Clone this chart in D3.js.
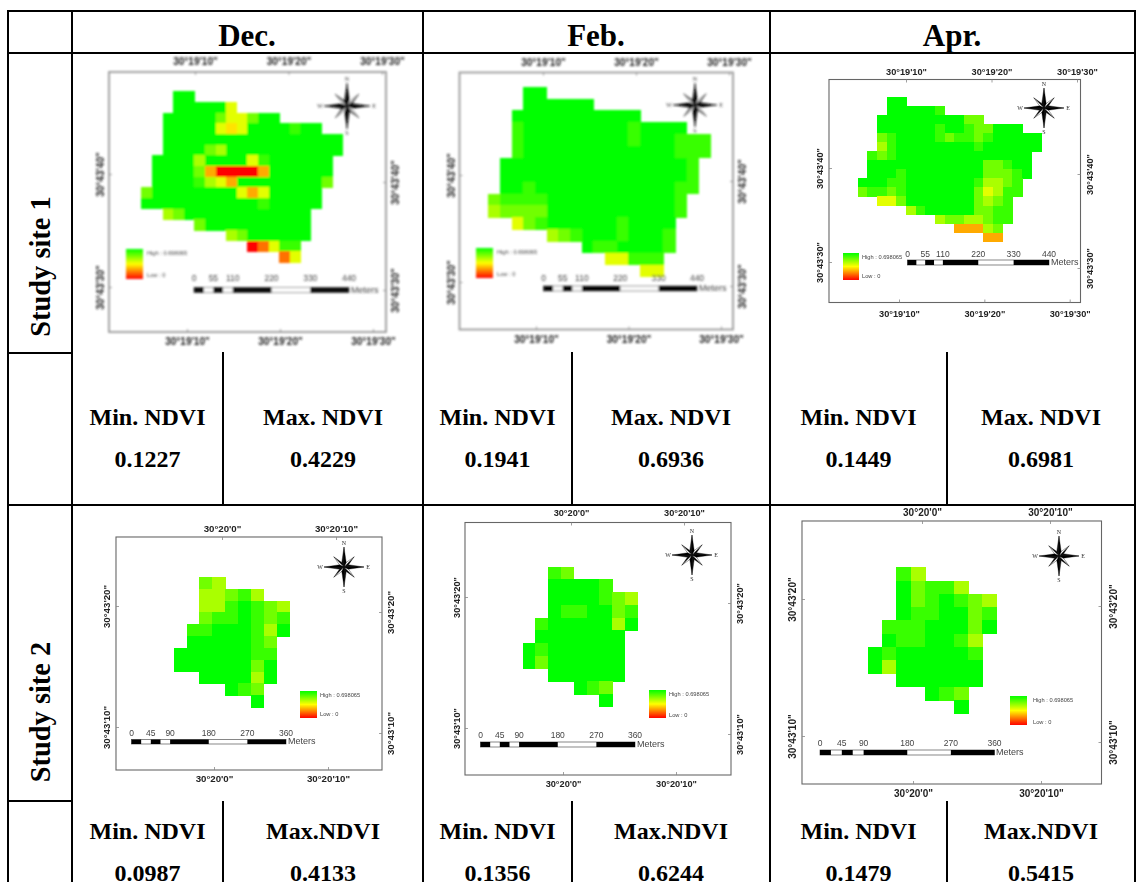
<!DOCTYPE html>
<html>
<head>
<meta charset="utf-8">
<script src="https://cdn.jsdelivr.net/npm/d3@7"></script>
<style>
    html, body { margin: 0; padding: 0; background: #fff; overflow: hidden; }
    svg { display: block; }
    .cap { font-family: "Liberation Serif", serif; font-weight: bold; fill: #000; text-anchor: middle; }
    .geo text { font-family: "Liberation Sans", sans-serif; font-weight: bold; fill: #222; }
    .bar-label { font-family: "Liberation Sans", sans-serif; fill: #444; }
</style>
</head>
<body>
<div id="chart"></div>
<script>
const WIDTH = 1142, HEIGHT = 882;
const NDVI_HIGH = 0.698065;

const months = ['Dec.', 'Feb.', 'Apr.'];
const sites = ['Study site 1', 'Study site 2'];

// min / max NDVI per month
const minSite1 = ['0.1227', '0.1941', '0.1449'];
const maxSite1 = ['0.4229', '0.6936', '0.6981'];
const minSite2 = ['0.0987', '0.1356', '0.1479'];
const maxSite2 = ['0.4133', '0.6244', '0.5415'];
const maxCaptionSite1 = 'Max. NDVI';
const maxCaptionSite2 = 'Max.NDVI';

// raster cells, digit = class 0 (low) .. 9 (high), '.' = no data
const dec1Rows = [
    '...99',
    '...999995',
    '..99999755799',
    '..999995459999899',
    '..99999999999999999',
    '..99997699999999999',
    '.99996999958999999',
    '.99997300003999999',
    '.99998653999999997',
    '79999999953599999',
    '99999999999899999',
    '..67999999999999',
    '.....79999999999',
    '........67999999',
    '..........02588',
    '.............25'
];
const feb1Rows = [
    '...99',
    '...999999',
    '..99999999999',
    '..899999999989999',
    '..89999999998999888',
    '..89999999999999888',
    '.99999999999999998',
    '.99999999999999998',
    '.99899999999999988',
    '78888999999999998',
    '67777999999999998',
    '..57899999989999',
    '.....67899989998',
    '........98899998',
    '..........55888',
    '.............55'
];
const apr1Rows = [
    '...99',
    '...999998',
    '..99999999977',
    '..999999899877999',
    '..78999987887899999',
    '..68999999998999999',
    '.87899999999999999',
    '.99999999999977899',
    '.99989999999977789',
    '99988999999986678',
    '78878999999975688',
    '..55799999997678',
    '.....68999997788',
    '........67766788',
    '..........33367',
    '.............33'
];
const dec2Rows = [
    '..76',
    '..66786',
    '..6689876',
    '..7889878',
    '.88999869',
    '.9999987',
    '99999988',
    '99999979',
    '..999969',
    '....987',
    '......9'
];
const feb2Rows = [
    '..87',
    '..99998',
    '..9999876',
    '..9889978',
    '.89999969',
    '.9999999',
    '98999999',
    '97999999',
    '..999999',
    '....987',
    '......9'
];
const apr2Rows = [
    '..86',
    '..97886',
    '..9789876',
    '..9889978',
    '.88899979',
    '.9889986',
    '98999998',
    '96999999',
    '..999999',
    '....987',
    '......9'
];

const barTicksSite1 = [0, 55, 110, 220, 330, 440];
const barTicksSite2 = [0, 45, 90, 180, 270, 360];
// black / white runs of the scale bar, as fractions of the bar length
const barRuns = [[0, 1 / 16], [1 / 8, 3 / 16], [1 / 4, 1 / 2], [3 / 4, 1]];

const lonSite1 = [10, 20, 30], latSite1 = [40, 30];
const lonSite2 = [0, 10], latSite2 = [20, 10];

// table rules
const colX = [8, 72, 423, 770, 1135];
const midX = [223, 572, 947];
const rowY = [11, 53, 505];

// page placement of each map panel
const panels = [
    { rows: dec1Rows, site: 0, blur: 0.95, labelSize: 10, frame: [109, 72, 386, 332], grid: [141.3, 91.3, 10.6, 10.67],
      top: [195, 382, 61], bottom: [187, 373, 341], left: [174, 287, 100], right: [182, 290, 395],
      rose: [347, 106, 23], legend: [126, 249, 17, 30, 147, 253, 275], bar: [194, 349, 287.5, 5, 281, 351] },
    { rows: feb1Rows, site: 0, blur: 0.95, labelSize: 10, frame: [459.5, 72.5, 733, 329.5], grid: [488.3, 86.7, 11.67, 11.87],
      top: [543, 729, 62.5], bottom: [536, 721, 339], left: [175, 282, 451], right: [181, 286, 742],
      rose: [695, 105, 22], legend: [476, 248, 17, 30, 497, 252, 274], bar: [543.5, 697, 286, 5, 281, 699] },
    { rows: apr1Rows, site: 0, blur: 0.5, labelSize: 9.2, frame: [829, 79.5, 1080.5, 302.5], grid: [857.7, 96.7, 9.67, 9.07],
      top: [906, 1077, 72], bottom: [899, 1069.7, 314], left: [168, 262, 820], right: [174, 268, 1090],
      rose: [1044, 108, 20], legend: [843, 253, 16, 27, 862, 257, 276], bar: [907.5, 1049, 260, 5, 257, 1051] },
    { rows: dec2Rows, site: 1, blur: 0.5, labelSize: 9.7, frame: [116, 537, 382, 770], grid: [173.7, 577, 12.87, 11.82],
      top: [222, 336, 528], bottom: [214, 328, 779], left: [606, 727, 107], right: [612, 733, 391],
      rose: [344, 567, 20], legend: [300, 691, 17, 27, 320, 695, 714], bar: [131.5, 286, 739.5, 4.5, 736, 288] },
    { rows: feb2Rows, site: 1, blur: 0.5, labelSize: 9.2, frame: [465, 522.5, 731, 775], grid: [522.7, 566.7, 12.78, 12.73],
      top: [571, 684, 513], bottom: [563, 676, 784], left: [597, 728, 457], right: [603, 734, 740],
      rose: [692, 555, 20], legend: [649, 690, 17, 28, 669, 694, 715], bar: [480.5, 635, 742, 5, 738, 637] },
    { rows: apr2Rows, site: 1, blur: 0.5, labelSize: 10, frame: [802, 521, 1101.5, 784], grid: [867.7, 567.3, 14.33, 13.27],
      top: [922, 1050, 512], bottom: [913, 1041, 793], left: [599, 736, 792], right: [606, 742, 1113],
      rose: [1059, 556, 20], legend: [1010, 696, 17, 29, 1033, 700, 722], bar: [820, 994.5, 750, 5, 746, 996] }
];

const classToNdvi = d3.scaleLinear().domain([0, 9]).range([0, NDVI_HIGH]);
const ndviColor = d3.scaleLinear()
    .domain([0, NDVI_HIGH / 2, NDVI_HIGH])
    .range(['#ff0000', '#ffff00', '#00ff00']);

const svg = d3.select('#chart').append('svg')
    .attr('width', WIDTH)
    .attr('height', HEIGHT);
const defs = svg.append('defs');

const legendGrad = defs.append('linearGradient')
    .attr('id', 'ndvi-ramp')
    .attr('x1', 0).attr('y1', 0).attr('x2', 0).attr('y2', 1);
d3.range(0, 1.01, 0.1).forEach(function (t) {
    legendGrad.append('stop')
        .attr('offset', t)
        .attr('stop-color', ndviColor(NDVI_HIGH * (1 - t)));
});

function drawPanel(panel, i) {
    let filterId = 'soft-' + i;
    defs.append('filter').attr('id', filterId)
        .attr('x', '-5%').attr('y', '-5%').attr('width', '110%').attr('height', '110%')
        .append('feGaussianBlur').attr('stdDeviation', panel.blur);

    let g = svg.append('g').attr('filter', 'url(#' + filterId + ')');
    let [fx0, fy0, fx1, fy1] = panel.frame;

    g.append('rect')
        .attr('x', fx0).attr('y', fy0)
        .attr('width', fx1 - fx0).attr('height', fy1 - fy0)
        .attr('fill', 'none')
        .attr('stroke', i < 2 ? '#999' : '#666')
        .attr('stroke-width', i < 2 ? 1.8 : 1.1);

    drawCells(g, panel);
    drawAxes(g, panel);
    drawRose(g, panel.rose);
    drawLegend(g, panel.legend);
    drawBar(g, panel);
}

function drawCells(g, panel) {
    let [x0, y0, cw, ch] = panel.grid;
    let nCols = d3.max(panel.rows, d => d.length);
    let x = d3.scaleLinear().domain([0, nCols]).range([x0, x0 + nCols * cw]);
    let y = d3.scaleLinear().domain([0, panel.rows.length]).range([y0, y0 + panel.rows.length * ch]);

    let cells = [];
    panel.rows.forEach(function (row, r) {
        row.split('').forEach(function (c, col) {
            if (c !== '.') cells.push({ r: r, col: col, ndvi: classToNdvi(+c) });
        });
    });

    g.append('g').attr('shape-rendering', 'crispEdges')
        .selectAll('rect').data(cells).join('rect')
        .attr('x', d => x(d.col))
        .attr('y', d => y(d.r))
        .attr('width', cw + 0.5)
        .attr('height', ch + 0.5)
        .attr('fill', d => ndviColor(d.ndvi));
}

function drawAxes(g, panel) {
    let site1 = panel.site === 0;
    let lons = site1 ? lonSite1 : lonSite2;
    let lats = site1 ? latSite1 : latSite2;
    let lonFmt = site1 ? (s => '30°19\'' + s + '"') : (s => '30°20\'' + s + '"');
    let latFmt = d => '30°43\'' + d + '"';
    let [fx0, fy0, fx1, fy1] = panel.frame;
    let size = panel.labelSize;

    function lonAxis(axisFn, spec, yPos) {
        let scale = d3.scaleLinear().domain([lons[0], lons[lons.length - 1]]).range([spec[0], spec[1]]);
        let axis = axisFn(scale).tickValues(lons).tickFormat(lonFmt).tickSizeInner(-3).tickSizeOuter(0)
            .tickPadding(Math.abs(spec[2] - yPos) - size * 0.36);
        let a = g.append('g').attr('class', 'geo').attr('transform', 'translate(0,' + yPos + ')').call(axis);
        styleAxis(a, size);
    }

    function latAxis(axisFn, spec, xPos, side) {
        let scale = d3.scaleLinear().domain([lats[0], lats[1]]).range([spec[0], spec[1]]);
        let axis = axisFn(scale).tickValues(lats).tickFormat(latFmt).tickSizeInner(-3).tickSizeOuter(0);
        let a = g.append('g').attr('class', 'geo').attr('transform', 'translate(' + xPos + ',0)').call(axis);
        styleAxis(a, size);
        a.selectAll('text')
            .attr('transform', 'rotate(-90)')
            .attr('x', 0)
            .attr('y', side * Math.abs(spec[2] - xPos))
            .attr('dy', '.35em')
            .attr('text-anchor', 'middle');
    }

    lonAxis(d3.axisTop, panel.top, fy0);
    lonAxis(d3.axisBottom, panel.bottom, fy1);
    latAxis(d3.axisLeft, panel.left, fx0, -1);
    latAxis(d3.axisRight, panel.right, fx1, 1);
}

function styleAxis(a, size) {
    a.attr('font-family', null).attr('font-size', null);
    a.select('.domain').remove();
    a.selectAll('line').attr('stroke', '#888').attr('stroke-width', 0.8);
    a.selectAll('text').style('font-size', size + 'px');
}

function drawRose(g, rose) {
    let [cx, cy, R] = rose;
    let r = g.append('g').attr('transform', 'translate(' + cx + ',' + cy + ')');
    let point = (rad, deg) => [rad * Math.sin(deg * Math.PI / 180), -rad * Math.cos(deg * Math.PI / 180)];
    let line = d3.line();

    // diagonal arms go first, the long ones sit on top
    [45, 135, 225, 315, 0, 90, 180, 270].forEach(function (deg) {
        let main = deg % 90 === 0;
        let len = main ? R : R * 0.72;
        let half = main ? R * 0.24 : R * 0.2;
        r.append('path')
            .attr('d', line([[0, 0], point(len, deg), point(half, deg + 28)]) + 'Z')
            .attr('fill', '#000').attr('stroke', '#111').attr('stroke-width', 0.3);
        r.append('path')
            .attr('d', line([[0, 0], point(len, deg), point(half, deg - 28)]) + 'Z')
            .attr('fill', main ? '#111' : '#fff').attr('stroke', '#111').attr('stroke-width', 0.4);
    });

    [['N', 0], ['E', 90], ['S', 180], ['W', 270]].forEach(function (d) {
        let p = point(R + 4, d[1]);
        r.append('text')
            .attr('x', p[0]).attr('y', p[1]).attr('dy', '.35em')
            .attr('text-anchor', 'middle')
            .attr('font-family', 'Liberation Serif, serif')
            .attr('font-size', 6)
            .attr('fill', '#333')
            .text(d[0]);
    });
}

function drawLegend(g, legend) {
    let [x, y, w, h, tx, highY, lowY] = legend;
    g.append('rect')
        .attr('x', x).attr('y', y).attr('width', w).attr('height', h)
        .attr('fill', 'url(#ndvi-ramp)');
    [['High : ' + NDVI_HIGH, highY], ['Low : 0', lowY]].forEach(function (d) {
        g.append('text')
            .attr('class', 'bar-label')
            .attr('x', tx).attr('y', d[1]).attr('dy', '.35em')
            .attr('font-size', 5.7)
            .text(d[0]);
    });
}

function drawBar(g, panel) {
    let [x0, x1, y, h, labelY, metersX] = panel.bar;
    let ticks = panel.site === 0 ? barTicksSite1 : barTicksSite2;
    let maxTick = ticks[ticks.length - 1];
    let x = d3.scaleLinear().domain([0, maxTick]).range([x0, x1]);

    g.append('rect')
        .attr('x', x0).attr('y', y).attr('width', x1 - x0).attr('height', h)
        .attr('fill', '#fff').attr('stroke', '#555').attr('stroke-width', 0.7);
    g.append('g').selectAll('rect').data(barRuns).join('rect')
        .attr('x', d => x(d[0] * maxTick))
        .attr('y', y)
        .attr('width', d => x(d[1] * maxTick) - x(d[0] * maxTick))
        .attr('height', h)
        .attr('fill', '#000');
    g.append('g').selectAll('text').data(ticks).join('text')
        .attr('class', 'bar-label')
        .attr('x', d => x(d))
        .attr('y', labelY)
        .attr('text-anchor', 'middle')
        .attr('font-size', 8.5)
        .text(d => d);
    g.append('text')
        .attr('class', 'bar-label')
        .attr('x', metersX)
        .attr('y', y + h)
        .attr('font-size', 9)
        .text('Meters');
}

function drawTable() {
    let rules = svg.append('g').attr('stroke', '#000').attr('stroke-width', 2);
    let hline = (x1, x2, y) => rules.append('line').attr('x1', x1).attr('x2', x2).attr('y1', y).attr('y2', y);
    let vline = (x, y1, y2) => rules.append('line').attr('x1', x).attr('x2', x).attr('y1', y1).attr('y2', y2);

    rowY.forEach(y => hline(colX[0] - 1, colX[4] + 1, y));
    colX.forEach(x => vline(x, rowY[0], HEIGHT));
    hline(colX[0], colX[1], 353);
    hline(colX[0], colX[1], 801);
    midX.forEach(function (x) {
        vline(x, 352, 505);
        vline(x, 801, HEIGHT);
    });
}

function drawCaptions() {
    months.forEach(function (m, i) {
        svg.append('text').attr('class', 'cap')
            .attr('x', (colX[i + 1] + colX[i + 2]) / 2 - 0.5)
            .attr('y', 46)
            .attr('font-size', 31)
            .text(m);
    });

    sites.forEach(function (s, i) {
        svg.append('text').attr('class', 'cap')
            .attr('transform', 'translate(50,' + (i === 0 ? 266.5 : 712) + ') rotate(-90)')
            .attr('font-size', 28.4)
            .text(s);
    });

    let statRows = [
        { mins: minSite1, maxs: maxSite1, maxCap: maxCaptionSite1, capY: 425, valY: 467 },
        { mins: minSite2, maxs: maxSite2, maxCap: maxCaptionSite2, capY: 839, valY: 881 }
    ];
    statRows.forEach(function (row) {
        months.forEach(function (m, i) {
            let minX = (colX[i + 1] + midX[i]) / 2;
            let maxX = (midX[i] + colX[i + 2]) / 2;
            [[minX, 'Min. NDVI', row.mins[i]], [maxX, row.maxCap, row.maxs[i]]].forEach(function (d) {
                svg.append('text').attr('class', 'cap')
                    .attr('x', d[0]).attr('y', row.capY).attr('font-size', 24).text(d[1]);
                svg.append('text').attr('class', 'cap')
                    .attr('x', d[0]).attr('y', row.valY).attr('font-size', 24).text(d[2]);
            });
        });
    });
}

panels.forEach(drawPanel);
drawTable();
drawCaptions();
</script>
</body>
</html>
